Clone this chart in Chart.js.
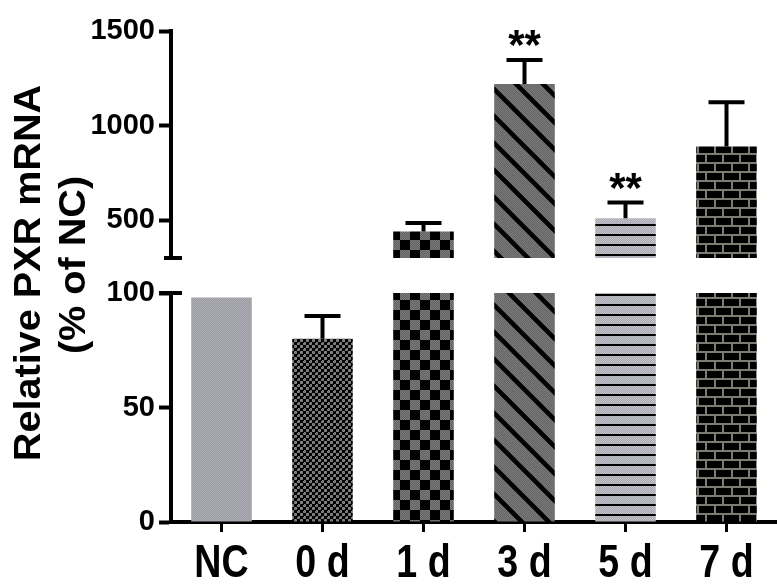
<!DOCTYPE html>
<html>
<head>
<meta charset="utf-8">
<script src="https://cdn.jsdelivr.net/npm/chart.js@4.4.1/dist/chart.umd.min.js"></script>
<style>
  html, body { margin: 0; padding: 0; background: #fff; }
  canvas { display: block; }
</style>
</head>
<body>
<canvas id="myChart" width="777" height="587"></canvas>
<script>
// data
const groups = ['NC', '0 d', '1 d', '3 d', '5 d', '7 d'];
const means = [98, 80, 440, 1220, 510, 890];
const sems = [0, 10, 45, 127, 84, 234];
const stars = ['', '', '', '**', '**', ''];
const lowTicks = [0, 50, 100];
const highTicks = [500, 1000, 1500];
const lowRange = [0, 100];
const highRange = [300, 1500];
const yTitle = ['Relative PXR mRNA', '(% of NC)'];

const ctx = document.getElementById('myChart').getContext('2d');

// little pattern tiles for the bar fills
function makeTile(w, h, draw) {
  const c = document.createElement('canvas');
  c.width = w; c.height = h;
  const g = c.getContext('2d');
  draw(g, w, h);
  return ctx.createPattern(c, 'repeat');
}
function dither(g, w, h, a, b) {
  for (let y = 0; y < h; y++) {
    for (let x = 0; x < w; x++) {
      g.fillStyle = (x + y) % 2 ? a : b;
      g.fillRect(x, y, 1, 1);
    }
  }
}

const ncFill = makeTile(2, 2, (g, w, h) => dither(g, w, h, '#98989f', '#b0b0b8'));
const d0Fill = makeTile(6, 6, (g, w, h) => {
  dither(g, w, h, '#6a6a6a', '#8a8a8a');
  g.fillStyle = '#000';
  g.fillRect(0, 0, 3, 3);
  g.fillRect(3, 3, 3, 3);
  g.fillRect(2, 0, 2, 1);
  g.fillRect(5, 3, 1, 1);
});
const d1Fill = makeTile(20, 20, (g, w, h) => {
  dither(g, w, h, '#5e5e5e', '#7e7e7e');
  g.fillStyle = '#000';
  g.fillRect(0, 0, 10, 10);
  g.fillRect(10, 10, 10, 10);
});
const d3Fill = makeTile(27, 27, (g, w, h) => {
  dither(g, w, h, '#646464', '#7a7a7a');
  g.strokeStyle = '#000';
  g.lineWidth = 4.5;
  g.beginPath();
  g.moveTo(-27, -27); g.lineTo(54, 54);
  g.moveTo(-27, 0); g.lineTo(27, 54);
  g.moveTo(0, -27); g.lineTo(54, 27);
  g.stroke();
});
const d5Fill = makeTile(4, 10, (g, w, h) => {
  dither(g, w, h, '#a8a8b0', '#c2c2ca');
  g.fillStyle = '#000';
  g.fillRect(0, 4, w, 2);
});
const d7Fill = makeTile(34, 18, (g, w, h) => {
  g.fillStyle = '#000';
  g.fillRect(0, 0, w, h);
  g.fillStyle = '#7c7c72';
  g.fillRect(0, 0, w, 2);
  g.fillRect(0, 9, w, 2);
  g.fillRect(0, 0, 2, 9);
  g.fillRect(17, 0, 2, 9);
  g.fillRect(8, 9, 2, 9);
  g.fillRect(25, 9, 2, 9);
});
const fills = [ncFill, d0Fill, d1Fill, d3Fill, d5Fill, d7Fill];

// error bars + significance stars
const errorBars = {
  id: 'errorBars',
  afterDatasetsDraw(chart) {
    const g = chart.ctx;
    const x = chart.scales.x, lo = chart.scales.yLow, hi = chart.scales.yHigh;
    g.save();
    g.strokeStyle = '#000';
    g.fillStyle = '#000';
    g.lineWidth = 4;
    means.forEach((m, i) => {
      if (!sems[i]) return;
      const sc = m >= highRange[0] ? hi : lo;
      const cx = x.getPixelForValue(i);
      const y0 = sc.getPixelForValue(m);
      const y1 = sc.getPixelForValue(m + sems[i]);
      g.beginPath();
      g.moveTo(cx, y0); g.lineTo(cx, y1);
      g.moveTo(cx - 18, y1); g.lineTo(cx + 18, y1);
      g.stroke();
      if (stars[i]) {
        g.font = 'bold 42px "Liberation Sans", Arial, sans-serif';
        g.textAlign = 'center';
        g.textBaseline = 'alphabetic';
        g.fillText(stars[i], cx, y1 - 25 + 0.58 * 42);
      }
    });
    g.restore();
  }
};

// caps at the axis break
const axisBreak = {
  id: 'axisBreak',
  afterDraw(chart) {
    const g = chart.ctx, lo = chart.scales.yLow, hi = chart.scales.yHigh;
    g.save();
    g.strokeStyle = '#000';
    g.lineWidth = 4;
    g.beginPath();
    g.moveTo(hi.right - 7, hi.bottom); g.lineTo(hi.right + 11, hi.bottom);
    g.moveTo(lo.right - 12, lo.top); g.lineTo(lo.right + 11, lo.top);
    g.stroke();
    g.restore();
  }
};

// rotated y title spanning both parts of the axis, and narrow category labels
const textPlugin = {
  id: 'texts',
  afterDraw(chart) {
    const g = chart.ctx, x = chart.scales.x;
    g.save();
    g.fillStyle = '#000';
    g.font = 'bold 36px "Liberation Sans", Arial, sans-serif';
    g.textAlign = 'center';
    g.textBaseline = 'middle';
    [[30, 273], [75, 265]].forEach((p, i) => {
      g.save();
      g.translate(p[0], p[1]);
      g.rotate(-Math.PI / 2);
      g.scale(1.1, 1);
      g.fillText(yTitle[i], 0, 0);
      g.restore();
    });
    g.font = 'bold 47px "Liberation Sans", Arial, sans-serif';
    g.textBaseline = 'alphabetic';
    groups.forEach((lab, i) => {
      g.save();
      g.translate(x.getPixelForValue(i), x.top + 55);
      g.scale(0.8, 1);
      g.fillText(lab, 0, 0);
      g.restore();
    });
    g.restore();
  }
};

const tickFont = { family: '"Liberation Sans", Arial, sans-serif', size: 29, weight: 'bold' };

function yAxis(range, ticks, stackWeight, weight) {
  return {
    type: 'linear',
    position: 'left',
    stack: 'y',
    stackWeight: stackWeight,
    weight: weight,
    min: range[0],
    max: range[1],
    afterBuildTicks: s => { s.ticks = ticks.map(v => ({ value: v })); },
    afterFit: s => { s.width = 171; },
    grid: { display: true, drawOnChartArea: false, color: '#000', tickColor: '#000', tickWidth: 4, tickLength: 12 },
    border: { display: true, color: '#000', width: 4 },
    ticks: { color: '#000', font: tickFont, padding: 4, callback: v => String(v) }
  };
}

new Chart(ctx, {
  type: 'bar',
  data: {
    labels: groups,
    datasets: [
      {
        data: means.map(v => v >= highRange[0] ? v : null),
        yAxisID: 'yHigh',
        backgroundColor: fills,
        grouped: false,
        barPercentage: 0.6,
        categoryPercentage: 1
      },
      {
        data: means.map(v => Math.min(v, lowRange[1])),
        yAxisID: 'yLow',
        backgroundColor: fills,
        grouped: false,
        barPercentage: 0.6,
        categoryPercentage: 1
      }
    ]
  },
  options: {
    responsive: false,
    animation: false,
    layout: { padding: { top: 31, left: 0, right: 0, bottom: 0 } },
    plugins: { legend: { display: false }, tooltip: { enabled: false } },
    scales: {
      x: {
        grid: { display: true, drawOnChartArea: false, offset: false, color: '#000', tickColor: '#000', tickWidth: 3, tickLength: 10 },
        border: { color: '#000', width: 4 },
        ticks: { display: false },
        afterFit: s => { s.height = 65; }
      },
      yLow: yAxis(lowRange, lowTicks, 229, 1),
      yGap: {
        type: 'linear',
        position: 'left',
        stack: 'y',
        stackWeight: 35,
        weight: 2,
        afterFit: s => { s.width = 171; },
        grid: { display: false },
        border: { display: false },
        ticks: { display: false }
      },
      yHigh: yAxis(highRange, highTicks, 227, 3)
    }
  },
  plugins: [errorBars, axisBreak, textPlugin]
});
</script>
</body>
</html>
